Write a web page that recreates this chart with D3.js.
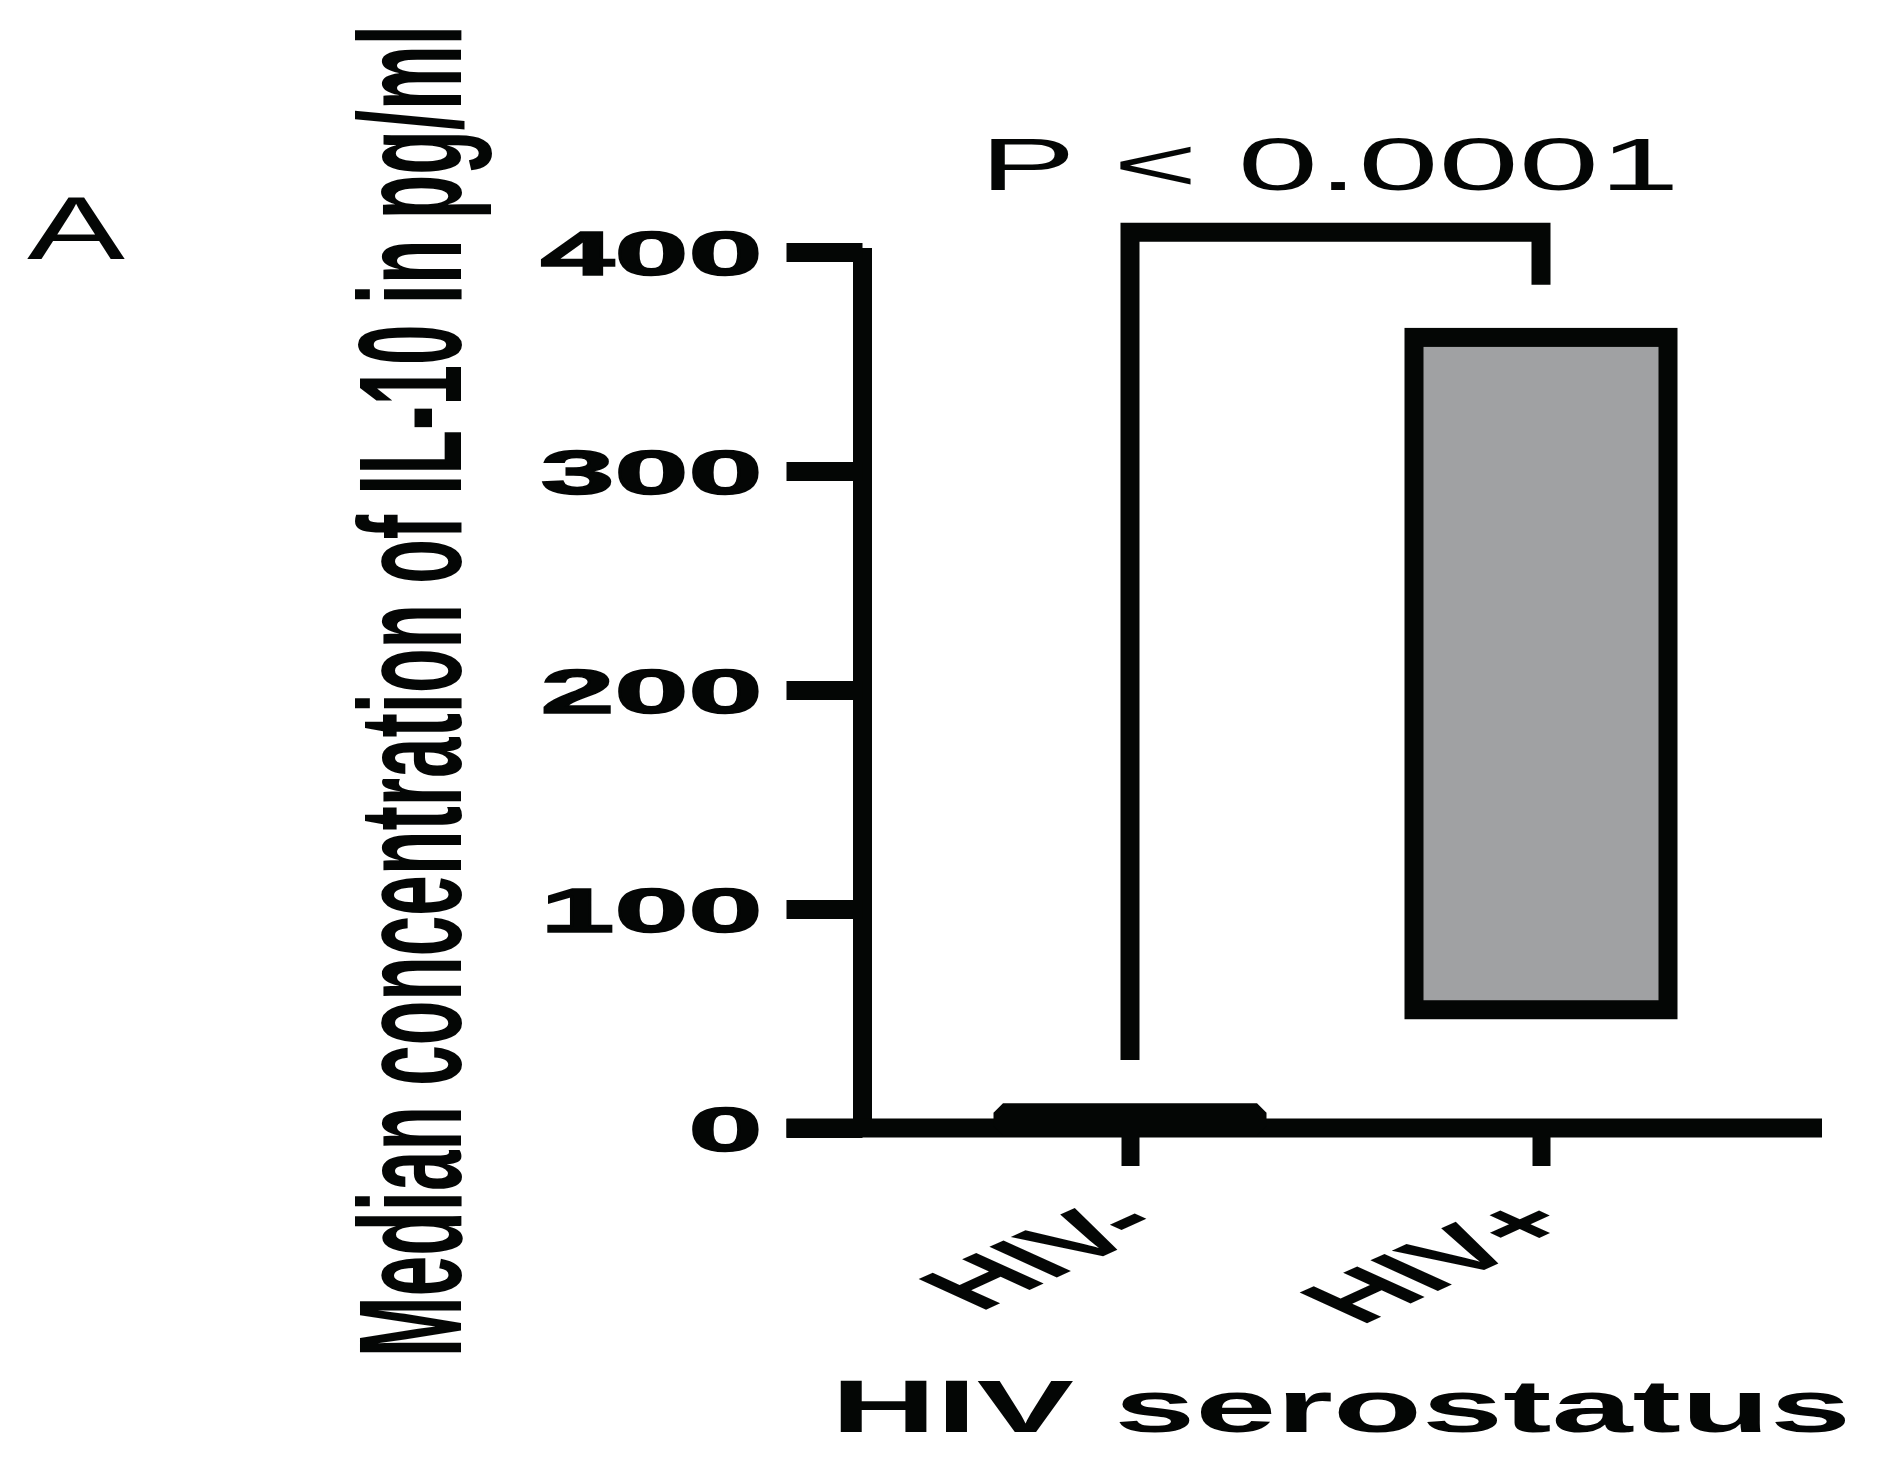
<!DOCTYPE html>
<html>
<head>
<meta charset="utf-8">
<script src="https://cdn.jsdelivr.net/npm/d3@7"></script>
<style>
  body { margin: 0; background: #ffffff; }
  text { font-family: "Liberation Sans", Arial, sans-serif; fill: #040605; }
</style>
</head>
<body>
<div id="chart"></div>
<script>
// values
var groups = ["HIV-", "HIV+"];
var barLow = [1, 54];          // floating bars, bottom value (pg/ml)
var barHigh = [7, 361];        // floating bars, top value (pg/ml)
var yTicks = [0, 100, 200, 300, 400];
var bracketEnds = [31, 385];   // where the bracket legs stop
var bracketTop = 409;
var pText = "P < 0.0001";

var ink = "#040605";
var grey = "#a0a1a3";
var lw = 19;

var svg = d3.select("#chart").append("svg")
    .attr("width", 1881)
    .attr("height", 1471);

var y = d3.scaleLinear().domain([0, 400]).range([1128, 252]);
var x = d3.scalePoint().domain(groups).range([1130, 1541]);
var axisX = 862.5;   // where the y axis sits
var barW = 254;

// y axis, ticks reach back to the left edge of the x axis line
var yAxis = svg.append("g")
    .attr("transform", "translate(" + axisX + ",0)")
    .call(d3.axisLeft(y).tickValues(yTicks).tickSize(76).tickSizeOuter(0).tickPadding(24));

yAxis.select(".domain")
    .attr("stroke", ink)
    .attr("stroke-width", lw)
    .attr("d", "M0," + (y(400) - 4) + "V" + y(0));
yAxis.selectAll(".tick line")
    .attr("stroke", ink)
    .attr("stroke-width", lw)
    .attr("x2", -76)
    .attr("x1", 0);
yAxis.selectAll(".tick text")
    .attr("font-size", 63)
    .attr("font-weight", "bold")
    .attr("dy", "0.36em")
    .attr("fill", ink)
    .attr("stroke", ink)
    .attr("stroke-width", 1.5)
    .attr("textLength", function(d) { return String(d).length * 74; })
    .attr("lengthAdjust", "spacingAndGlyphs");

// x axis line drawn from the left end of the y ticks to the right edge
svg.append("line")
    .attr("x1", axisX - 76)
    .attr("x2", 1822)
    .attr("y1", y(0))
    .attr("y2", y(0))
    .attr("stroke", ink)
    .attr("stroke-width", lw);

// floating bars
svg.selectAll(".bar")
    .data(groups)
    .enter().append("rect")
    .attr("class", "bar")
    .attr("x", function(d) { return x(d) - barW / 2; })
    .attr("width", barW)
    .attr("y", function(d, i) { return y(barHigh[i]); })
    .attr("height", function(d, i) { return y(barLow[i]) - y(barHigh[i]); })
    .attr("fill", grey)
    .attr("stroke", ink)
    .attr("stroke-width", lw)
    .attr("stroke-linejoin", function(d, i) { return i == 0 ? "bevel" : "miter"; });

// x ticks + rotated labels
var xAxis = svg.append("g")
    .attr("transform", "translate(0," + y(0) + ")")
    .call(d3.axisBottom(x).tickSize(38).tickSizeOuter(0));
xAxis.select(".domain").remove();
xAxis.selectAll(".tick line")
    .attr("stroke", ink)
    .attr("stroke-width", 18);
xAxis.selectAll(".tick text").remove();

svg.selectAll(".xlab")
    .data(groups)
    .enter().append("text")
    .attr("class", "xlab")
    .attr("text-anchor", "end")
    .attr("font-size", 63)
    .attr("font-weight", "bold")
    .attr("transform", function(d) {
        return "translate(" + (x(d) + 40) + ",1226) scale(2.2,1) rotate(-45)";
    })
    .text(function(d) { return d; });

// significance bracket
var bracket = d3.line()
    .x(function(d) { return x(d[0]); })
    .y(function(d) { return y(d[1]); });
svg.append("path")
    .attr("d", bracket([[groups[0], bracketEnds[0]], [groups[0], bracketTop],
                        [groups[1], bracketTop], [groups[1], bracketEnds[1]]]))
    .attr("fill", "none")
    .attr("stroke", ink)
    .attr("stroke-width", lw);

svg.append("text")
    .attr("x", (x(groups[0]) + x(groups[1])) / 2 - 6)
    .attr("y", 190)
    .attr("text-anchor", "middle")
    .attr("font-size", 74)
    .attr("textLength", 700)
    .attr("lengthAdjust", "spacingAndGlyphs")
    .text(pText);

// titles
svg.append("text")
    .attr("x", 27)
    .attr("y", 259)
    .attr("font-size", 89)
    .attr("textLength", 98)
    .attr("lengthAdjust", "spacingAndGlyphs")
    .text("A");

svg.append("text")
    .attr("text-anchor", "middle")
    .attr("font-size", 64)
    .attr("font-weight", "bold")
    .attr("textLength", 1332)
    .attr("lengthAdjust", "spacingAndGlyphs")
    .attr("transform", "translate(461,691) scale(2.29,1) rotate(-90)")
    .text("Median concentration of IL-10 in pg/ml");

svg.append("text")
    .attr("x", 1341)
    .attr("y", 1432)
    .attr("text-anchor", "middle")
    .attr("font-size", 74)
    .attr("font-weight", "bold")
    .attr("textLength", 1020)
    .attr("lengthAdjust", "spacingAndGlyphs")
    .text("HIV serostatus");
</script>
</body>
</html>
